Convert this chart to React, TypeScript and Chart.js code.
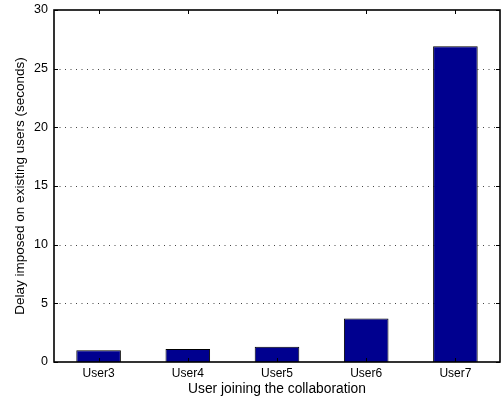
import React, { useEffect, useRef } from "react";
import { Chart, registerables } from "chart.js";

Chart.register(...registerables);

// Joining users and the delay each one imposed on the existing session
const users = ["User3", "User4", "User5", "User6", "User7"];
const delaySeconds = [1.0, 1.1, 1.3, 3.7, 26.9];
const yTicks = [0, 5, 10, 15, 20, 25, 30];

const FONT = "'Liberation Sans', Arial, Helvetica, sans-serif";
const BAR_FILL = "#00008f";
const TICK_LEN = 4;

// Draws the MATLAB-style axes box, dotted grid and inward tick marks
const axesBox = {
  id: "axesBox",
  beforeDatasetsDraw(chart: any) {
    const { ctx, chartArea: a, scales } = chart;
    const y = scales.y;
    ctx.save();
    ctx.strokeStyle = "#444";
    ctx.lineWidth = 1;
    ctx.setLineDash([1, 4.5]);
    for (const v of yTicks) {
      if (v === yTicks[0] || v === yTicks[yTicks.length - 1]) continue;
      const py = Math.round(y.getPixelForValue(v)) + 0.5;
      ctx.beginPath();
      ctx.moveTo(a.left, py);
      ctx.lineTo(a.right, py);
      ctx.stroke();
    }
    ctx.restore();
  },
  afterDatasetsDraw(chart: any) {
    const { ctx, chartArea: a, scales } = chart;
    const x = scales.x;
    const y = scales.y;
    ctx.save();
    ctx.strokeStyle = "#000";
    ctx.lineWidth = 1;
    // inward ticks on the left and right sides
    for (const v of yTicks) {
      const py = Math.round(y.getPixelForValue(v)) + 0.5;
      ctx.beginPath();
      ctx.moveTo(a.left, py);
      ctx.lineTo(a.left + TICK_LEN, py);
      ctx.moveTo(a.right, py);
      ctx.lineTo(a.right - TICK_LEN, py);
      ctx.stroke();
    }
    // inward ticks on the top and bottom at each category
    users.forEach((_, i) => {
      const px = Math.round(x.getPixelForValue(i)) + 0.5;
      ctx.beginPath();
      ctx.moveTo(px, a.top);
      ctx.lineTo(px, a.top + TICK_LEN);
      ctx.moveTo(px, a.bottom);
      ctx.lineTo(px, a.bottom - TICK_LEN);
      ctx.stroke();
    });
    // axes box
    ctx.lineWidth = 1.6;
    ctx.strokeRect(a.left, a.top, a.right - a.left, a.bottom - a.top);
    ctx.restore();
  },
};

export default function App() {
  const canvasRef = useRef<HTMLCanvasElement | null>(null);

  useEffect(() => {
    document.body.style.margin = "0";
    const canvas = canvasRef.current;
    if (!canvas) return;
    const chart = new Chart(canvas, {
      type: "bar",
      data: {
        labels: users,
        datasets: [
          {
            data: delaySeconds,
            backgroundColor: BAR_FILL,
            borderColor: "#000",
            borderWidth: 1,
            categoryPercentage: 1,
            barPercentage: 0.5,
          },
        ],
      },
      options: {
        animation: false,
        responsive: false,
        maintainAspectRatio: false,
        layout: { padding: { top: 10, right: 3, left: 0, bottom: 0 } },
        plugins: {
          legend: { display: false },
          tooltip: { enabled: false },
        },
        scales: {
          x: {
            grid: { display: false, drawTicks: false },
            border: { display: false },
            ticks: {
              color: "#000",
              font: { family: FONT, size: 12 },
              padding: 4,
              maxRotation: 0,
              autoSkip: false,
            },
            title: {
              display: true,
              text: "User joining the collaboration",
              color: "#000",
              font: { family: FONT, size: 13.8 },
              padding: { top: 0, bottom: 0.5 },
            },
            afterFit(scale: any) {
              scale.height = 36;
              scale.paddingLeft = 0;
              scale.paddingRight = 0;
            },
          },
          y: {
            min: 0,
            max: 30,
            grid: { display: false, drawTicks: false },
            border: { display: false },
            ticks: {
              stepSize: 5,
              color: "#000",
              font: { family: FONT, size: 12.5 },
              padding: 6,
            },
            title: {
              display: true,
              text: "Delay imposed on existing users (seconds)",
              color: "#000",
              font: { family: FONT, size: 13.5 },
              padding: { top: 12, bottom: 0 },
            },
            afterFit(scale: any) {
              scale.width = 54;
              scale.paddingTop = 0;
              scale.paddingBottom = 0;
            },
          },
        },
      },
      plugins: [axesBox],
    });
    return () => chart.destroy();
  }, []);

  return (
    <div style={{ width: 503, height: 398, background: "#fff" }}>
      <canvas ref={canvasRef} width={503} height={398} />
    </div>
  );
}
